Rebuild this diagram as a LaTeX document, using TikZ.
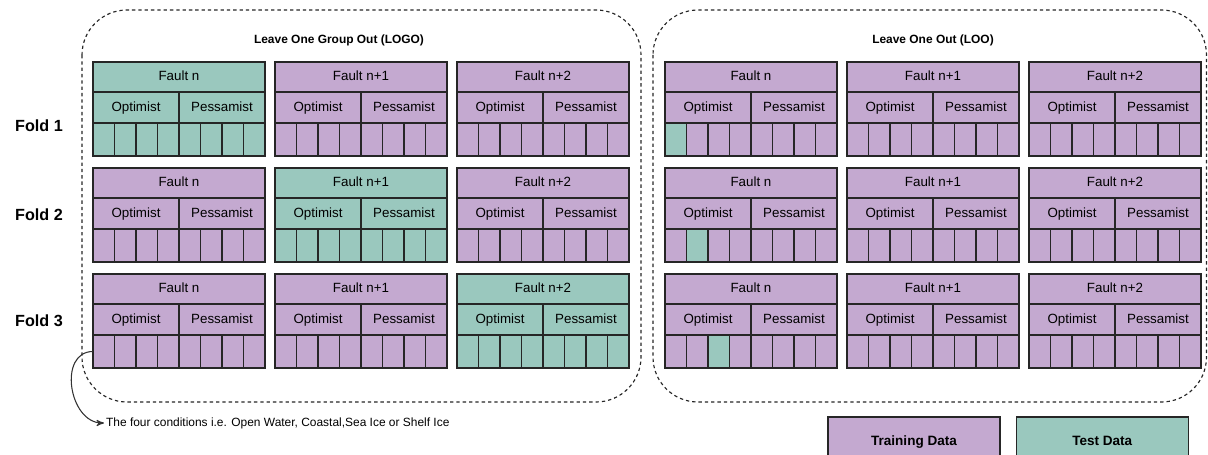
\documentclass[tikz,border=0pt]{standalone}
\usepackage{fontspec}
\setmainfont{Liberation Sans}
\usepackage{tikz}
\usetikzlibrary{arrows,positioning}
\definecolor{trainpurple}{RGB}{196,169,208}
\definecolor{testgreen}{RGB}{154,200,190}
\definecolor{edgegray}{RGB}{38,38,38}
\tikzset{
    blockbox/.style={
           rectangle,
           draw=edgegray, line width=0.75pt,
           anchor=north west,
           inner sep=0pt,
           outer sep=0pt,
           text height=5.6pt,
           text depth=1.6pt,
           font=\fontsize{7.6}{9}\selectfont,
           },
    faulthead/.style={
           blockbox,
           minimum width=3.44cm,
           minimum height=0.6cm,
           },
    halfbox/.style={
           blockbox,
           minimum width=1.72cm,
           minimum height=0.62cm,
           },
    cellbox/.style={
           blockbox,
           minimum width=0.43cm,
           minimum height=0.66cm,
           },
    groupbox/.style={
           draw=black!85,
           line width=0.65pt,
           dash pattern=on 1.9pt off 1.7pt,
           rounded corners=0.9cm,
           },
    grouptitle/.style={
           font=\bfseries\fontsize{6.8}{8}\selectfont,
           },
    foldlabel/.style={
           font=\bfseries\fontsize{9.2}{11}\selectfont,
           },
    note/.style={
           anchor=west,
           inner sep=1pt,
           font=\fontsize{6.8}{8}\selectfont,
           },
    legendbox/.style={
           rectangle,
           draw=edgegray, line width=0.75pt,
           minimum width=3.44cm,
           minimum height=1cm,
           text height=5.8pt,
           text depth=1.7pt,
           font=\bfseries\fontsize{7.7}{9}\selectfont,
           },
    pointer/.style={
           ->,
           >=stealth',
           draw=black!80,
           line width=0.6pt,
           },
}

% one fault: name, x, y, title, fill, number of the test cell (0 = none)
\newcommand{\faultblock}[6]{%
  \node[faulthead, fill=#5] (#1h) at (#2,#3) {#4};
  \node[halfbox, fill=#5] (#1o) at (#2,#3+30) {Optimist};
  \node[halfbox, fill=#5] (#1p) at (#2+86,#3+30) {Pessamist};
  \foreach \c in {1,...,8} {
    \ifnum\c=#6\relax\def\cc{testgreen}\else\def\cc{#5}\fi
    \node[cellbox, fill=\cc] (#1c\c) at ({#2+(\c-1)*21.5},#3+61) {};
  }
}

\begin{document}
\begin{tikzpicture}[x=0.02cm,y=-0.02cm]
\useasboundingbox (0,0) rectangle (1208,454);
\clip (0,0) rectangle (1208,454);

\draw[groupbox] (82,10) rectangle (641,402);
\draw[groupbox] (653,10) rectangle (1206.5,402);
\node[grouptitle] (logo) at (339,40) {Leave One Group Out (LOGO)};
\node[grouptitle] (loo) at (933,40) {Leave One Out (LOO)};

\foreach \f/\ly in {1/126, 2/215, 3/321}
  \node[foldlabel] (fold\f) at (39,\ly) {Fold \f};

\foreach \f/\y in {1/62, 2/168, 3/274} {
  \foreach \g/\x/\t in {1/93/Fault n, 2/275/Fault n+1, 3/457/Fault n+2} {
    \ifnum\f=\g\relax\def\col{testgreen}\else\def\col{trainpurple}\fi
    \faultblock{logo\f\g}{\x}{\y}{\t}{\col}{0}
  }
  \foreach \g/\x/\t in {1/665/Fault n, 2/847/Fault n+1, 3/1029/Fault n+2} {
    \ifnum\g=1\relax\def\k{\f}\else\def\k{0}\fi
    \faultblock{loo\f\g}{\x}{\y}{\t}{trainpurple}{\k}
  }
}

\node[note] (cond) at (104,423) {The four conditions i.e. Open Water, Coastal,Sea Ice or Shelf Ice};
\path (logo31c1.west) edge[pointer, out=180, in=180, looseness=1.25] (cond.west);

\node[legendbox, fill=trainpurple] (train) at (914,442) {Training Data};
\node[legendbox, fill=testgreen, right=0.3cm of train] (test) {Test Data};
\end{tikzpicture}
\end{document}
